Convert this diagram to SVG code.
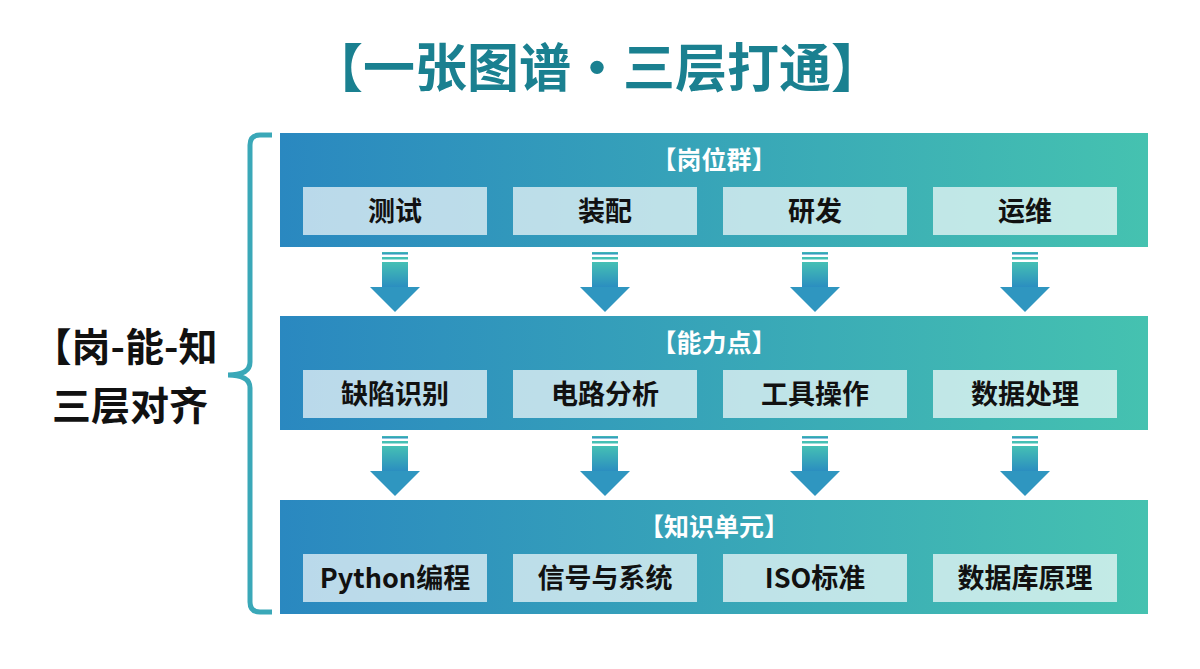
<svg xmlns="http://www.w3.org/2000/svg" width="1200" height="669" viewBox="0 0 1200 669">
<style>
text{font-family:"Noto Sans CJK SC","Noto Sans",sans-serif;font-weight:700;text-anchor:middle}
.pt{font-size:25px;fill:#fff}
.bt{font-size:27px;fill:#111}
.box{fill:#fff;fill-opacity:0.68}
</style>
<defs>
<linearGradient id="pg" x1="0" y1="0" x2="1" y2="0"><stop offset="0" stop-color="#2a88c0"/><stop offset="1" stop-color="#45c2b0"/></linearGradient>
<linearGradient id="ag" x1="0" y1="0" x2="0" y2="1"><stop offset="0" stop-color="#45c0b4"/><stop offset="1" stop-color="#2a8cc0"/></linearGradient>
<g id="arr"><rect x="-13" y="0" width="26" height="2.5" fill="url(#ag)"/><rect x="-13" y="5" width="26" height="2.5" fill="#45c0b4"/><rect x="-13" y="10" width="26" height="26" fill="url(#ag)"/><polygon points="-25,35 25,35 0,60" fill="#2f96c0"/></g>
</defs>
<rect width="1200" height="669" fill="#fff"/>
<text x="597" y="87" style="font-size:52px;fill:#1a8090">【一张图谱·三层打通】</text>
<g id="left"><text x="125" y="361" style="font-size:39px;fill:#111">【岗-能-知</text><text x="130" y="420" style="font-size:39px;fill:#111">三层对齐</text></g>
<g id="connectors">
<path d="M272,135 H260 Q250,135 250,145 V362 Q250,375 228,375 Q250,375 250,388 V602 Q250,612 260,612 H272" fill="none" stroke="#3aa8b8" stroke-width="5"/>
<use href="#arr" x="395" y="252"/><use href="#arr" x="605" y="252"/><use href="#arr" x="815" y="252"/><use href="#arr" x="1025" y="252"/>
<use href="#arr" x="395" y="436"/><use href="#arr" x="605" y="436"/><use href="#arr" x="815" y="436"/><use href="#arr" x="1025" y="436"/>
</g>
<g id="layer1"><rect x="280" y="133" width="868" height="114" fill="url(#pg)"/><text class="pt" x="714" y="169">【岗位群】</text>
<rect class="box" x="303" y="187" width="184" height="48"/><text class="bt" x="395" y="221">测试</text>
<rect class="box" x="513" y="187" width="184" height="48"/><text class="bt" x="605" y="221">装配</text>
<rect class="box" x="723" y="187" width="184" height="48"/><text class="bt" x="815" y="221">研发</text>
<rect class="box" x="933" y="187" width="184" height="48"/><text class="bt" x="1025" y="221">运维</text></g>
<g id="layer2"><rect x="280" y="316" width="868" height="114" fill="url(#pg)"/><text class="pt" x="714" y="352">【能力点】</text>
<rect class="box" x="303" y="370" width="184" height="48"/><text class="bt" x="395" y="404">缺陷识别</text>
<rect class="box" x="513" y="370" width="184" height="48"/><text class="bt" x="605" y="404">电路分析</text>
<rect class="box" x="723" y="370" width="184" height="48"/><text class="bt" x="815" y="404">工具操作</text>
<rect class="box" x="933" y="370" width="184" height="48"/><text class="bt" x="1025" y="404">数据处理</text></g>
<g id="layer3"><rect x="280" y="500" width="868" height="114" fill="url(#pg)"/><text class="pt" x="714" y="536">【知识单元】</text>
<rect class="box" x="303" y="554" width="184" height="48"/><text class="bt" x="395" y="588">Python编程</text>
<rect class="box" x="513" y="554" width="184" height="48"/><text class="bt" x="605" y="588">信号与系统</text>
<rect class="box" x="723" y="554" width="184" height="48"/><text class="bt" x="815" y="588">ISO标准</text>
<rect class="box" x="933" y="554" width="184" height="48"/><text class="bt" x="1025" y="588">数据库原理</text></g>
</svg>
